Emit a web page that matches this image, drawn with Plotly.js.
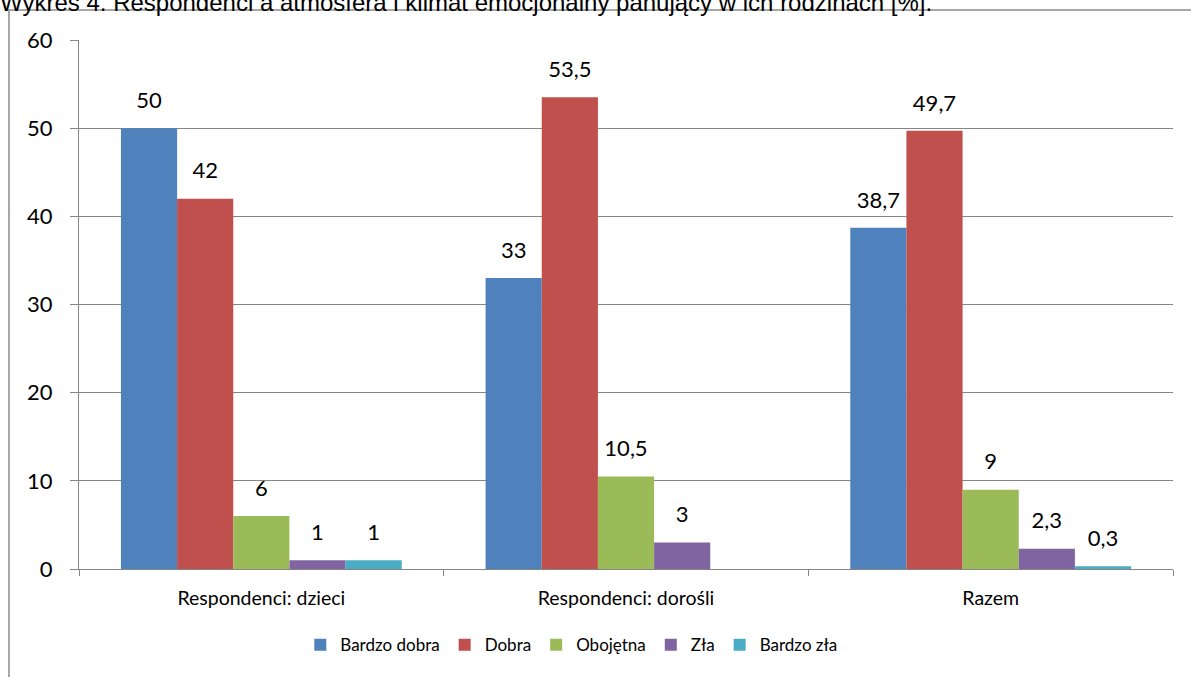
<!DOCTYPE html>
<html>
<head>
<meta charset="utf-8">
<script src="https://cdn.plot.ly/plotly-3.0.1.min.js"></script>
<style>html,body{margin:0;padding:0;background:#fff;}#chart{width:1191px;height:677px;}</style>
</head>
<body>
<div id="chart"></div>
<script>
const categories = ["Respondenci: dzieci", "Respondenci: dorośli", "Razem"];
const seriesNames = ["Bardzo dobra", "Dobra", "Obojętna", "Zła", "Bardzo zła"];
const bardzoDobra = [50, 33, 38.7];
const dobra = [42, 53.5, 49.7];
const obojetna = [6, 10.5, 9];
const zla = [1, 3, 2.3];
const bardzoZla = [1, null, 0.3];
const yTicks = [0, 10, 20, 30, 40, 50, 60];
const colors = ["#4F81BD", "#C0504D", "#9BBB59", "#8064A2", "#4BACC6"];
const titleText = "Wykres 4. Respondenci a atmosfera i klimat emocjonalny panujący w ich rodzinach [%].";

const allSeries = [bardzoDobra, dobra, obojetna, zla, bardzoZla];
const fmt = v => (v === null ? "" : String(v).replace(".", ","));

const traces = [];
allSeries.forEach((vals, i) => {
  traces.push({
    type: "bar", name: seriesNames[i], x: categories, y: vals,
    marker: {color: colors[i]}, hoverinfo: "skip"
  });
});
allSeries.forEach((vals, i) => {
  traces.push({
    type: "scatter", mode: "markers+text", x: categories, y: vals,
    text: vals.map(fmt), textposition: "top center",
    textfont: {family: "Lato, sans-serif", size: 22, color: "#000"},
    marker: {size: 22, opacity: 0, color: colors[i]},
    showlegend: false, hoverinfo: "skip", cliponaxis: false
  });
});

const layout = {
  width: 1191, height: 677,
  margin: {l: 79, r: 18, t: 40, b: 108, autoexpand: false},
  paper_bgcolor: "#fff", plot_bgcolor: "#fff",
  barmode: "group", bargap: 0.23, bargroupgap: 0,
  scattermode: "group", scattergap: 0.23,
  font: {family: "Lato, sans-serif", color: "#000"},
  xaxis: {
    type: "category", showgrid: false, showline: true, linecolor: "#868686", linewidth: 1,
    ticks: "outside", tickson: "boundaries", ticklen: 6, tickcolor: "#868686",
    tickfont: {family: "Lato, sans-serif", size: 19.5, color: "#000"},
    ticklabelstandoff: 12, fixedrange: true
  },
  yaxis: {
    range: [0, 60], tickvals: yTicks, ticktext: yTicks.map(String),
    showgrid: true, gridcolor: "#868686", gridwidth: 1,
    showline: true, linecolor: "#868686", linewidth: 1,
    ticks: "outside", ticklen: 8, tickcolor: "#868686",
    tickfont: {family: "Lato, sans-serif", size: 22, color: "#000"},
    ticklabelstandoff: 13, zeroline: false, fixedrange: true
  },
  legend: {
    orientation: "h", x: 0.45, xanchor: "center", yref: "container", y: 0.047, yanchor: "middle",
    font: {family: "Lato, sans-serif", size: 17, color: "#000"},
    itemwidth: 30, traceorder: "normal", tracegroupgap: 0
  },
  shapes: [{
    type: "rect", xref: "paper", yref: "paper",
    x0: -0.0640, x1: 1.2, y0: -0.5, y1: 1.0567,
    line: {color: "#8c8c8c", width: 1.5}, fillcolor: "rgba(0,0,0,0)", layer: "below"
  }],
  annotations: [{
    text: titleText, xref: "paper", yref: "paper", x: 0, y: 1, xanchor: "left", yanchor: "bottom",
    xshift: -81, yshift: 22, showarrow: false,
    font: {family: "Liberation Sans, Arial, sans-serif", size: 24, color: "#000"}
  }]
};

Plotly.newPlot("chart", traces, layout, {displayModeBar: false, staticPlot: true});
</script>
</body>
</html>
